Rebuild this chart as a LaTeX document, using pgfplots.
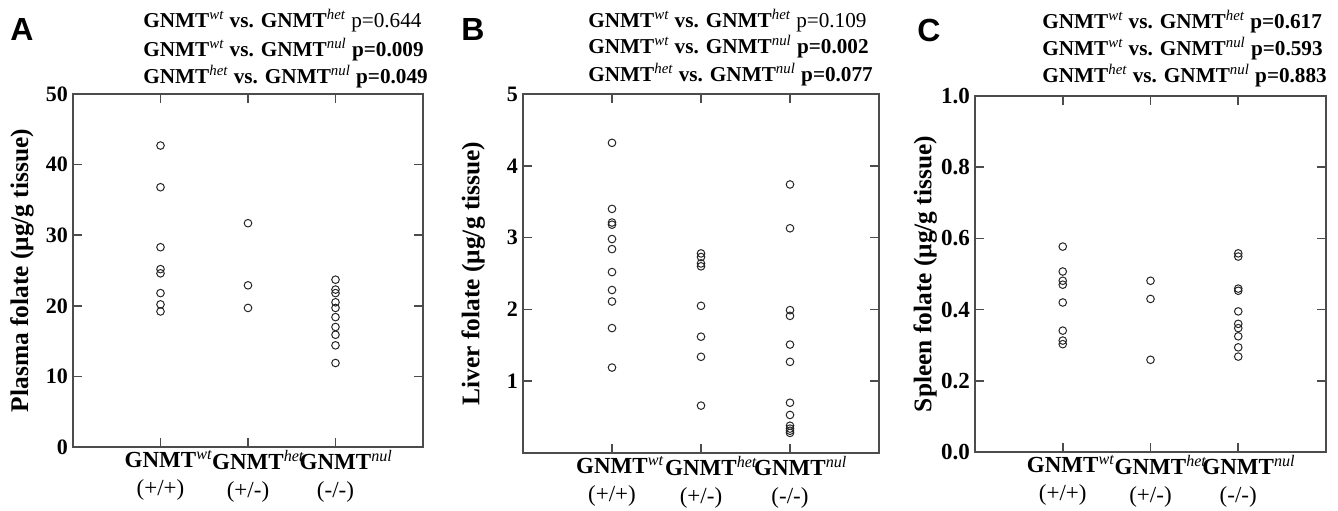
\documentclass[border=0pt]{standalone}
\usepackage{pgfplots}
\pgfplotsset{compat=1.18}
\usepackage{fontspec}
\setmainfont{Liberation Serif}
\newfontfamily\panelfont{Liberation Sans}

\newcommand\G{\textbf{GNMT}}
\newcommand\gs[1]{\textsuperscript{\itshape #1}}
\newcommand\vs{ \textbf{vs.} }

\pgfplotsset{
  folate/.style={
    scale only axis, anchor=south west,
    xmin=0, xmax=4, xtick={1,2,3},
    xticklabels={{\G\rlap{\gs{wt}}\\[0pt](+/+)},{\G\rlap{\gs{het}}\\[0pt](+/-)},{\G\rlap{\gs{nul}}\\[0pt](-/-)}},
    xticklabel style={align=center, font=\fontsize{11.5}{14}\selectfont, yshift=2pt},
    tick align=inside, major tick length=4.5pt,
    axis line style={black!70, line width=0.8pt},
    every tick/.style={black!70, line width=0.8pt},
    /pgf/number format/assume math mode=true,
    yticklabel style={font=\fontsize{11}{12}\selectfont\bfseries, xshift=1pt},
    ylabel style={font=\fontsize{12.7}{14}\selectfont\bfseries, anchor=center},
  },
  dots/.style={only marks, mark=o, mark size=1.9pt, black!85, mark options={line width=0.5pt}},
}
\tikzset{ttl/.style={anchor=west, font=\fontsize{10.6}{12}\selectfont, inner sep=0pt},
  lett/.style={font=\panelfont\bfseries\fontsize{16}{18}\selectfont}}

\begin{document}
\begin{tikzpicture}
\useasboundingbox (0,0) rectangle (669pt,-255pt);

% panel A
\begin{axis}[folate, at={(36.5pt,-223.5pt)}, width=175pt, height=176.5pt,
  ymin=0, ymax=50, ytick={0,10,...,50},
  ylabel={Plasma folate (μg/g tissue)},
  ylabel style={at={(axis description cs:-0.146,0.5)}}]
\addplot[dots] coordinates {
  (1,42.7) (1,36.8) (1,28.3) (1,25.2) (1,24.6) (1,21.8) (1,20.2) (1,19.2)
  (2,31.7) (2,22.9) (2,19.7)
  (3,23.7) (3,22.3) (3,21.8) (3,20.5) (3,19.7) (3,18.4) (3,17.0) (3,15.9) (3,14.4) (3,11.9)};
\end{axis}
\node[lett] at (11pt,-14.5pt) {A};
\node[ttl] at (71.5pt,-10.5pt) {\G\gs{wt}\vs\G\gs{het} p=0.644};
\node[ttl] at (71.5pt,-25pt) {\G\gs{wt}\vs\G\gs{nul} \textbf{p=0.009}};
\node[ttl] at (71.5pt,-38.5pt) {\G\gs{het}\vs\G\gs{nul} \textbf{p=0.049}};

% panel B
\begin{axis}[folate, at={(261.5pt,-226.5pt)}, width=178pt, height=179.5pt,
  ymin=0, ymax=5, ytick={1,2,...,5},
  ylabel={Liver folate (μg/g tissue)},
  ylabel style={at={(axis description cs:-0.14,0.5)}}]
\addplot[dots] coordinates {
  (1,4.32) (1,3.40) (1,3.21) (1,3.18) (1,2.98) (1,2.84) (1,2.52) (1,2.27) (1,2.11) (1,1.74) (1,1.19)
  (2,2.78) (2,2.73) (2,2.64) (2,2.60) (2,2.05) (2,1.62) (2,1.34) (2,0.66)
  (3,3.74) (3,3.13) (3,1.99) (3,1.91) (3,1.51) (3,1.27) (3,0.70) (3,0.53) (3,0.38) (3,0.34) (3,0.31) (3,0.28)};
\end{axis}
\node[lett] at (236.5pt,-14.5pt) {B};
\node[ttl] at (294pt,-10.5pt) {\G\gs{wt}\vs\G\gs{het} p=0.109};
\node[ttl] at (294pt,-23.5pt) {\G\gs{wt}\vs\G\gs{nul} \textbf{p=0.002}};
\node[ttl] at (294pt,-37.5pt) {\G\gs{het}\vs\G\gs{nul} \textbf{p=0.077}};

% panel C
\begin{axis}[folate, at={(487.5pt,-226pt)}, width=175.5pt, height=178pt,
  ymin=0, ymax=1, ytick={0,0.2,...,1.0},
  yticklabel style={font=\fontsize{11.5}{12}\selectfont\bfseries,
    /pgf/number format/.cd, fixed, fixed zerofill, precision=1},
  ylabel={Spleen folate (μg/g tissue)},
  ylabel style={at={(axis description cs:-0.142,0.5)}}]
\addplot[dots] coordinates {
  (1,0.577) (1,0.507) (1,0.481) (1,0.470) (1,0.420) (1,0.341) (1,0.313) (1,0.303)
  (2,0.481) (2,0.430) (2,0.259)
  (3,0.558) (3,0.549) (3,0.459) (3,0.453) (3,0.395) (3,0.360) (3,0.348) (3,0.325) (3,0.294) (3,0.268)};
\end{axis}
\node[lett] at (464.5pt,-15pt) {C};
\node[ttl] at (521pt,-11pt) {\G\gs{wt}\vs\G\gs{het} \textbf{p=0.617}};
\node[ttl] at (521pt,-24.5pt) {\G\gs{wt}\vs\G\gs{nul} \textbf{p=0.593}};
\node[ttl] at (521pt,-38pt) {\G\gs{het}\vs\G\gs{nul} \textbf{p=0.883}};
\end{tikzpicture}
\end{document}
